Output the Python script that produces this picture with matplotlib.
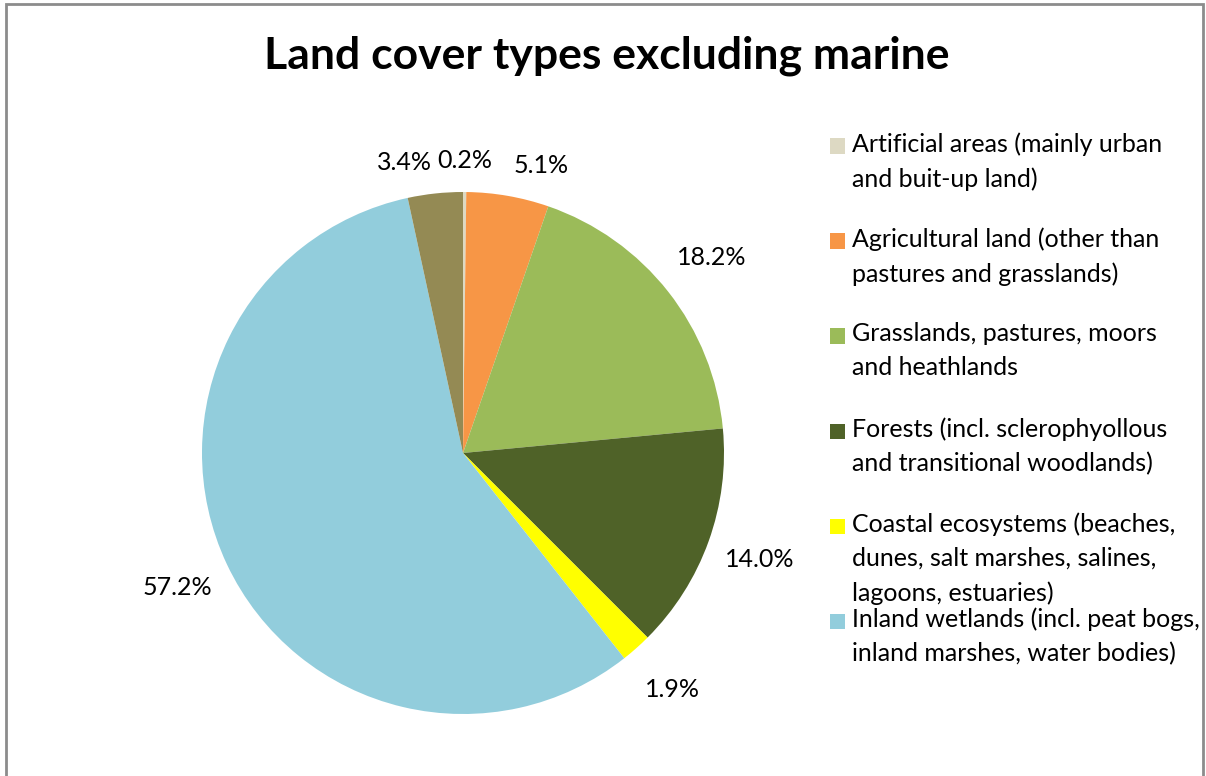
import numpy as np
import matplotlib.pyplot as plt
from matplotlib.patches import Rectangle

# Share of each land cover type (%), clockwise from 12 o'clock
CATEGORIES = [
    "Artificial areas (mainly urban\nand buit-up land)",
    "Agricultural land (other than\npastures and grasslands)",
    "Grasslands, pastures, moors\nand heathlands",
    "Forests (incl. sclerophyollous\nand transitional woodlands)",
    "Coastal ecosystems (beaches,\ndunes, salt marshes, salines,\nlagoons, estuaries)",
    "Inland wetlands (incl. peat bogs,\ninland marshes, water bodies)",
    "Other",
]
SHARES = [0.2, 5.1, 18.2, 14.0, 1.9, 57.2, 3.4]
COLORS = ['#DDD9C3', '#F79646', '#9BBB59', '#4F6228', '#FFFF00', '#92CDDC', '#948A54']
LEGEND_COUNT = 6  # last slice has no legend entry

FONT = 'Lato'
W, H = 1206, 776

fig = plt.figure(figsize=(W / 100, H / 100), dpi=100)

# chart frame
fig.patches.append(Rectangle((6 / W, -0.01), (1203 - 6) / W, (H - 4) / H + 0.01,
                             transform=fig.transFigure, fill=False,
                             edgecolor='#8c8c8c', linewidth=2))

fig.text(607 / W, 1 - 56 / H, 'Land cover types excluding marine',
         ha='center', va='center', fontsize=32, fontweight='bold', family=FONT)

cx, cy, r = 463, 453, 261
ax = fig.add_axes([(cx - r) / W, (H - cy - r) / H, 2 * r / W, 2 * r / H])
wedges, _ = ax.pie(SHARES, colors=COLORS, startangle=90, counterclock=False,
                   radius=1.0, wedgeprops=dict(linewidth=0))
ax.set_xlim(-1, 1)
ax.set_ylim(-1, 1)
ax.set_aspect('equal')
ax.axis('off')

# percentage labels outside each wedge; the narrow ones at the top sit closer
# and are pushed sideways so they don't collide
for w, val in zip(wedges, SHARES):
    mid = np.deg2rad((w.theta1 + w.theta2) / 2)
    c, s = np.cos(mid), np.sin(mid)
    ha = 'center'
    dist = 1.21
    if s > 0.95:
        dist = 1.12
        if c < -0.05:
            ha = 'right'
        elif c > 0.05:
            ha = 'left'
    ax.text(dist * c, dist * s, f'{val:.1f}%', ha=ha, va='center',
            fontsize=18, family=FONT, clip_on=False)

# legend with fixed slot spacing
y0, step = 146, 95
for i in range(LEGEND_COUNT):
    y = y0 + i * step
    fig.patches.append(Rectangle((830 / W, 1 - (y + 7.5) / H), 15 / W, 15 / H,
                                 transform=fig.transFigure,
                                 facecolor=COLORS[i], edgecolor='none'))
    fig.text(852 / W, 1 - (y - 14) / H, CATEGORIES[i], ha='left', va='top',
             fontsize=18, family=FONT, linespacing=1.6)

fig.savefig('out.png', dpi=100)
